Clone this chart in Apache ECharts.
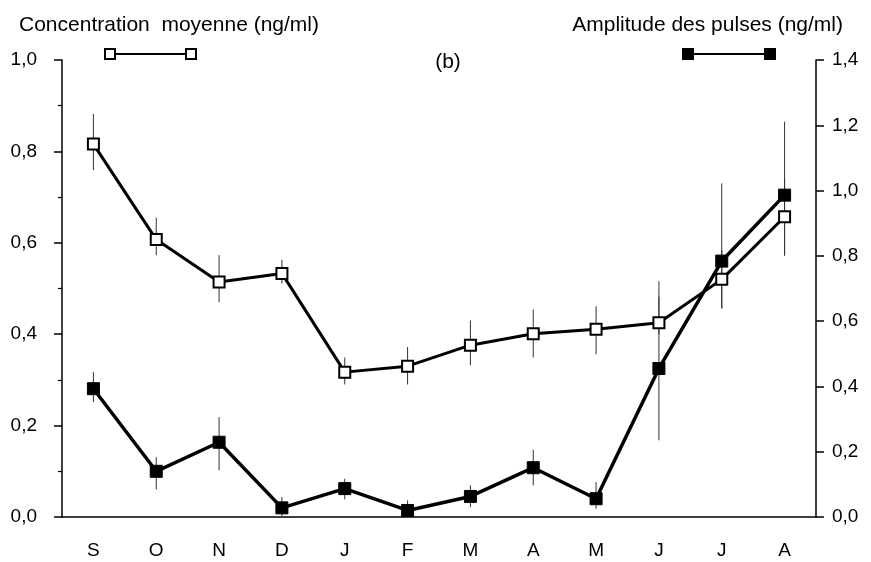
<!DOCTYPE html>
<html>
<head>
<meta charset="utf-8">
<script src="https://cdn.jsdelivr.net/npm/echarts@6/dist/echarts.min.js"></script>
<style>
  html, body { margin: 0; padding: 0; background: #fff; }
  #chart { width: 871px; height: 562px; }
</style>
</head>
<body>
<div id="chart"></div>
<script>
// mois (sept -> août)
const months = ['S', 'O', 'N', 'D', 'J', 'F', 'M', 'A', 'M', 'J', 'J', 'A']

// concentration moyenne (axe gauche)
const concentration = [0.816, 0.607, 0.514, 0.533, 0.317, 0.330, 0.376, 0.401, 0.411, 0.425, 0.520, 0.657]
const concLow = [0.759, 0.573, 0.470, 0.511, 0.290, 0.290, 0.332, 0.349, 0.356, 0.400, 0.456, 0.573]
const concHigh = [0.882, 0.655, 0.573, 0.563, 0.349, 0.372, 0.430, 0.454, 0.461, 0.516, 0.584, 0.740]

// amplitude des pulses (axe droit)
const amplitude = [0.393, 0.140, 0.229, 0.028, 0.087, 0.020, 0.063, 0.151, 0.056, 0.455, 0.784, 0.986]
const ampLow = [0.352, 0.084, 0.143, 0.000, 0.054, 0.000, 0.030, 0.097, 0.025, 0.235, 0.640, 0.800]
const ampHigh = [0.444, 0.183, 0.306, 0.061, 0.117, 0.051, 0.097, 0.206, 0.107, 0.675, 1.022, 1.211]

const FONT = 'Liberation Sans'
const fmt = v => v.toFixed(1).replace('.', ',')

// barres d'erreur verticales
function errorBars(low, high, axisIdx) {
  return {
    type: 'custom',
    yAxisIndex: axisIdx,
    z: 1,
    silent: true,
    data: low.map((l, i) => [i, l, high[i]]),
    renderItem: function (params, api) {
      const p1 = api.coord([api.value(0), api.value(1)])
      const p2 = api.coord([api.value(0), api.value(2)])
      return {
        type: 'line',
        shape: { x1: p1[0], y1: p1[1], x2: p2[0], y2: p2[1] },
        style: { stroke: '#333', lineWidth: 1 }
      }
    }
  }
}

const chart = echarts.init(document.getElementById('chart'))

const axisCommon = {
  type: 'value',
  min: 0,
  interval: 0.2,
  splitLine: { show: false },
  axisLine: { show: true, lineStyle: { color: '#000', width: 1.5 } },
  axisTick: { show: true, length: 8, lineStyle: { color: '#000', width: 1.5 } },
  axisLabel: { color: '#000', fontSize: 19, fontFamily: FONT, formatter: fmt }
}

chart.setOption({
  animation: false,
  backgroundColor: '#fff',
  title: [
    {
      text: 'Concentration  moyenne (ng/ml)',
      left: 14, top: 10,
      textStyle: { fontSize: 21, fontWeight: 'normal', color: '#000', fontFamily: FONT }
    },
    {
      text: 'Amplitude des pulses (ng/ml)',
      right: 23, top: 10,
      textStyle: { fontSize: 21, fontWeight: 'normal', color: '#000', fontFamily: FONT }
    }
  ],
  grid: { left: 62, right: 55, top: 60, bottom: 45 },
  xAxis: {
    type: 'category',
    data: months,
    boundaryGap: true,
    axisLine: { lineStyle: { color: '#000', width: 1.5 } },
    axisTick: { alignWithLabel: true, length: 7, lineStyle: { color: '#000', width: 1.5 } },
    axisLabel: { color: '#000', fontSize: 19, fontFamily: FONT, margin: 24, interval: 0 }
  },
  yAxis: [
    Object.assign({}, axisCommon, {
      max: 1.0,
      position: 'left',
      minorTick: { show: true, splitNumber: 2, length: 4, lineStyle: { color: '#000', width: 1.2 } },
      axisLabel: Object.assign({}, axisCommon.axisLabel, { margin: 25 })
    }),
    Object.assign({}, axisCommon, {
      max: 1.4,
      position: 'right',
      axisLabel: Object.assign({}, axisCommon.axisLabel, { margin: 16 })
    })
  ],
  graphic: [
    // légende gauche (carrés vides)
    { type: 'line', shape: { x1: 110, y1: 54, x2: 191, y2: 54 }, style: { stroke: '#000', lineWidth: 2 } },
    { type: 'rect', shape: { x: 105, y: 49, width: 10, height: 10 }, style: { fill: '#fff', stroke: '#000', lineWidth: 2 } },
    { type: 'rect', shape: { x: 186, y: 49, width: 10, height: 10 }, style: { fill: '#fff', stroke: '#000', lineWidth: 2 } },
    // légende droite (carrés pleins)
    { type: 'line', shape: { x1: 688, y1: 54, x2: 770, y2: 54 }, style: { stroke: '#000', lineWidth: 2 } },
    { type: 'rect', shape: { x: 682, y: 48, width: 12, height: 12 }, style: { fill: '#000' } },
    { type: 'rect', shape: { x: 764, y: 48, width: 12, height: 12 }, style: { fill: '#000' } },
    {
      type: 'text', x: 448, y: 62,
      style: { text: '(b)', fontSize: 21, fontFamily: FONT, fill: '#000', align: 'center', verticalAlign: 'middle' }
    }
  ],
  series: [
    errorBars(concLow, concHigh, 0),
    errorBars(ampLow, ampHigh, 1),
    {
      name: 'Amplitude des pulses',
      type: 'line',
      yAxisIndex: 1,
      data: amplitude,
      symbol: 'rect',
      symbolSize: 12,
      z: 3,
      lineStyle: { color: '#000', width: 3.5 },
      itemStyle: { color: '#000', borderColor: '#000', borderWidth: 1 }
    },
    {
      name: 'Concentration moyenne',
      type: 'line',
      yAxisIndex: 0,
      data: concentration,
      symbol: 'rect',
      symbolSize: 11,
      z: 4,
      lineStyle: { color: '#000', width: 3 },
      itemStyle: { color: '#fff', borderColor: '#000', borderWidth: 2 }
    }
  ]
})
</script>
</body>
</html>
